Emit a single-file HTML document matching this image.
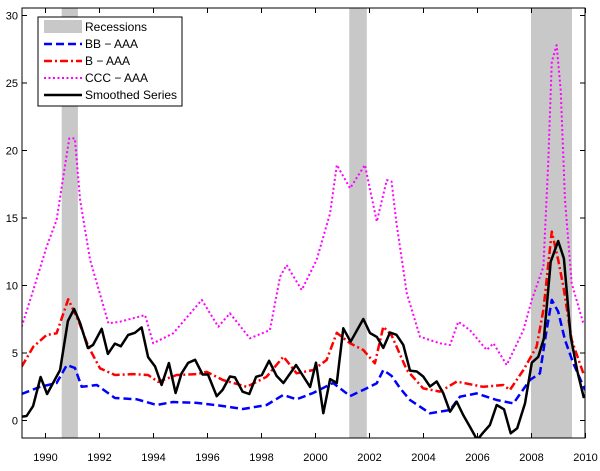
<!DOCTYPE html>
<html><head><meta charset="utf-8"><style>
body{margin:0;background:#fff;}
svg text{font-family:"Liberation Sans",Arial,sans-serif;}
</style></head><body>
<svg id="chart" width="600" height="466" xmlns="http://www.w3.org/2000/svg">
<g id="rec"></g>
<g id="series"></g>
<g id="axes"></g>
<g>
<rect x="38" y="17" width="144" height="89" fill="#fff" stroke="#000" stroke-width="1"/>
<rect x="44" y="20" width="38" height="13" fill="#c8c8c8"/>
<text x="85" y="31" font-size="12">Recessions</text>
<line x1="44" y1="44" x2="82" y2="44" stroke="#0000ff" stroke-width="2.5" stroke-dasharray="8,4"/>
<text x="85" y="48" font-size="12">BB − AAA</text>
<line x1="44" y1="61" x2="82" y2="61" stroke="#ff0000" stroke-width="2.5" stroke-dasharray="8,3,2,3"/>
<text x="85" y="65" font-size="12">B − AAA</text>
<line x1="44" y1="78" x2="82" y2="78" stroke="#ff00ff" stroke-width="2" stroke-dasharray="2,2.5"/>
<text x="85" y="82" font-size="12">CCC − AAA</text>
<line x1="44" y1="95" x2="82" y2="95" stroke="#000" stroke-width="2.5"/>
<text x="85" y="99" font-size="12">Smoothed Series</text>
</g>
</svg>
<script>
const recStart=[1990.6,2001.25,2007.98];
const recEnd=[1991.2,2001.9,2009.5];
const xTicks=[1990,1992,1994,1996,1998,2000,2002,2004,2006,2008,2010];
const yTicks=[0,5,10,15,20,25,30];
const smYears=[1989.12,1989.30,1989.54,1989.82,1990.06,1990.54,1990.83,1991.06,1991.28,1991.57,1991.76,1992.08,1992.31,1992.57,1992.79,1993.06,1993.31,1993.56,1993.80,1994.06,1994.30,1994.57,1994.82,1995.04,1995.28,1995.54,1995.82,1996.02,1996.34,1996.56,1996.83,1997.02,1997.30,1997.55,1997.80,1998.01,1998.28,1998.56,1998.81,1999.28,1999.80,2000.02,2000.29,2000.54,2000.79,2001.03,2001.30,2001.77,2002.02,2002.27,2002.51,2002.76,2003.0,2003.25,2003.50,2003.75,2003.99,2004.24,2004.49,2004.73,2004.98,2005.23,2005.47,2005.72,2005.99,2006.21,2006.46,2006.71,2006.98,2007.23,2007.47,2007.76,2008.01,2008.25,2008.46,2008.71,2008.99,2009.20,2009.45,2009.70,2009.94];
const smVals=[0.28,0.33,1.07,3.22,1.96,3.74,7.37,8.26,7.22,5.37,5.59,6.79,4.93,5.70,5.5,6.33,6.5,6.9,4.7,4.0,2.63,4.26,2.04,3.5,4.27,4.5,3.41,3.41,1.8,2.27,3.26,3.19,2.13,1.96,3.24,3.36,4.42,3.30,2.78,4.11,2.48,4.28,0.54,3.07,2.78,6.83,5.84,7.52,6.48,6.19,5.38,6.52,6.35,5.6,3.7,3.63,3.26,2.52,2.89,2.03,0.65,1.39,0.41,-0.46,-1.44,-0.90,-0.33,1.15,0.83,-0.95,-0.58,1.27,4.28,4.72,6.08,11.76,13.29,12.0,6.2,3.63,1.66];
const bbYears=[1989.12,1989.80,1990.41,1990.79,1991.09,1991.34,1991.9,1992.57,1993.38,1994.12,1994.72,1995.6,1996.46,1997.31,1998.19,1998.8,1999.30,1999.91,2000.65,2001.28,2001.9,2002.27,2002.51,2002.82,2003.13,2003.5,2004.24,2004.98,2005.35,2005.97,2006.71,2007.33,2007.94,2008.31,2008.56,2008.75,2008.99,2009.24,2009.55,2009.98];
const bbVals=[1.96,2.5,2.78,4.1,3.9,2.5,2.63,1.67,1.57,1.15,1.37,1.3,1.1,0.85,1.15,1.89,1.57,2.04,2.78,1.81,2.39,2.76,3.74,3.3,2.4,1.52,0.53,0.78,1.76,2.01,1.52,1.27,3.0,3.5,6.7,8.93,8.06,5.96,4.24,2.26];
const bYears=[1989.12,1989.55,1990.04,1990.41,1990.84,1991.21,1991.59,1992.02,1992.57,1993.24,1993.80,1994.17,1994.86,1995.6,1995.97,1996.57,1997.45,1998.19,1998.81,1999.30,1999.92,2000.41,2000.79,2001.28,2001.77,2002.2,2002.51,2002.82,2003.13,2003.38,2003.99,2004.61,2005.23,2006.21,2006.96,2007.2,2007.70,2008.19,2008.44,2008.75,2008.99,2009.18,2009.49,2009.92];
const bVals=[3.99,5.47,6.33,6.46,8.98,7.44,5.47,3.87,3.37,3.44,3.37,2.87,3.37,3.44,3.6,3.0,2.5,3.24,4.73,3.5,3.74,4.48,6.5,5.72,5.22,4.24,6.95,6.3,4.9,3.74,2.38,2.14,2.88,2.5,2.63,2.26,3.74,5.47,8.19,13.99,11.89,9.91,5.96,3.5];
const cccYears=[1989.12,1989.55,1990.04,1990.41,1990.66,1990.88,1991.09,1991.28,1991.65,1992.08,1992.33,1992.76,1993.69,1993.99,1994.73,1995.79,1996.4,1996.83,1997.57,1998.31,1998.69,1998.93,1999.49,2000.04,2000.54,2000.79,2001.28,2001.83,2002.27,2002.64,2002.82,2003.0,2003.38,2003.87,2004.61,2004.98,2005.29,2005.72,2006.34,2006.59,2007.08,2007.70,2008.01,2008.44,2008.62,2008.75,2008.93,2009.08,2009.24,2009.49,2009.92];
const cccVals=[6.95,9.67,12.87,14.85,18.06,20.9,20.9,16.33,11.89,8.93,7.2,7.32,7.81,5.72,6.46,8.93,6.95,7.94,6.09,6.7,10.65,11.52,9.67,11.89,15.35,18.93,17.2,18.93,14.73,17.81,17.69,14.6,9.42,6.2,5.72,5.59,7.32,6.7,5.22,5.72,4.11,6.7,8.93,11.39,19.05,26.58,27.81,24.48,16.33,10.16,7.2];

const L=22,R=585,T=8,B=438;
const X=y=>45.5+(y-1990)*27;
const Y=v=>420.5-v*13.5;
const NS="http://www.w3.org/2000/svg";
function mk(tag,attrs,parent){const e=document.createElementNS(NS,tag);for(const k in attrs)e.setAttribute(k,attrs[k]);parent.appendChild(e);return e;}
const svg=document.getElementById('chart');
// clip
const defs=mk('defs',{},svg);const cp=mk('clipPath',{id:'pc'},defs);mk('rect',{x:L,y:T,width:R-L,height:B-T},cp);
const rec=document.getElementById('rec');
recStart.forEach((s,i)=>{
 const r=mk('rect',{x:X(s),y:T,width:X(recEnd[i])-X(s),height:B-T,fill:'#c8c8c8'},rec);
 
 
});
const ser=document.getElementById('series');ser.setAttribute('clip-path','url(#pc)');
function line(xs,vs,stroke,w,dash,name){
 const p=mk('polyline',{points:xs.map((x,i)=>X(x).toFixed(1)+','+Y(vs[i]).toFixed(1)).join(' '),fill:'none',stroke:stroke,'stroke-width':w,'stroke-linejoin':'round'},ser);
 if(dash)p.setAttribute('stroke-dasharray',dash);
 
 
}
line(cccYears,cccVals,'#ff00ff',2,'2,2.5','ccc-aaa-line');
line(bYears,bVals,'#ff0000',2.5,'8,3,2,3','b-aaa-line');
line(bbYears,bbVals,'#0000ff',2.5,'8,4','bb-aaa-line');
line(smYears,smVals,'#000',2.5,null,'smoothed-series-line');
const ax=document.getElementById('axes');
const fr=mk('rect',{x:L,y:T,width:R-L,height:B-T,fill:'none',stroke:'#000','stroke-width':1},ax);


xTicks.forEach(t=>{
 const x=X(t);
 mk('line',{x1:x,y1:B,x2:x,y2:B-5,stroke:'#000'},ax);
 mk('line',{x1:x,y1:T,x2:x,y2:T+5,stroke:'#000'},ax);
 const tx=mk('text',{x:x,y:461,'font-size':11,'text-anchor':'middle'},ax);tx.textContent=t;
 
 
});
yTicks.forEach(t=>{
 const y=Y(t);
 mk('line',{x1:L,y1:y,x2:L+5,y2:y,stroke:'#000'},ax);
 mk('line',{x1:R,y1:y,x2:R-5,y2:y,stroke:'#000'},ax);
 const tx=mk('text',{x:18,y:y+4,'font-size':11,'text-anchor':'end'},ax);tx.textContent=t;
 
 
});
</script>
</body></html>
